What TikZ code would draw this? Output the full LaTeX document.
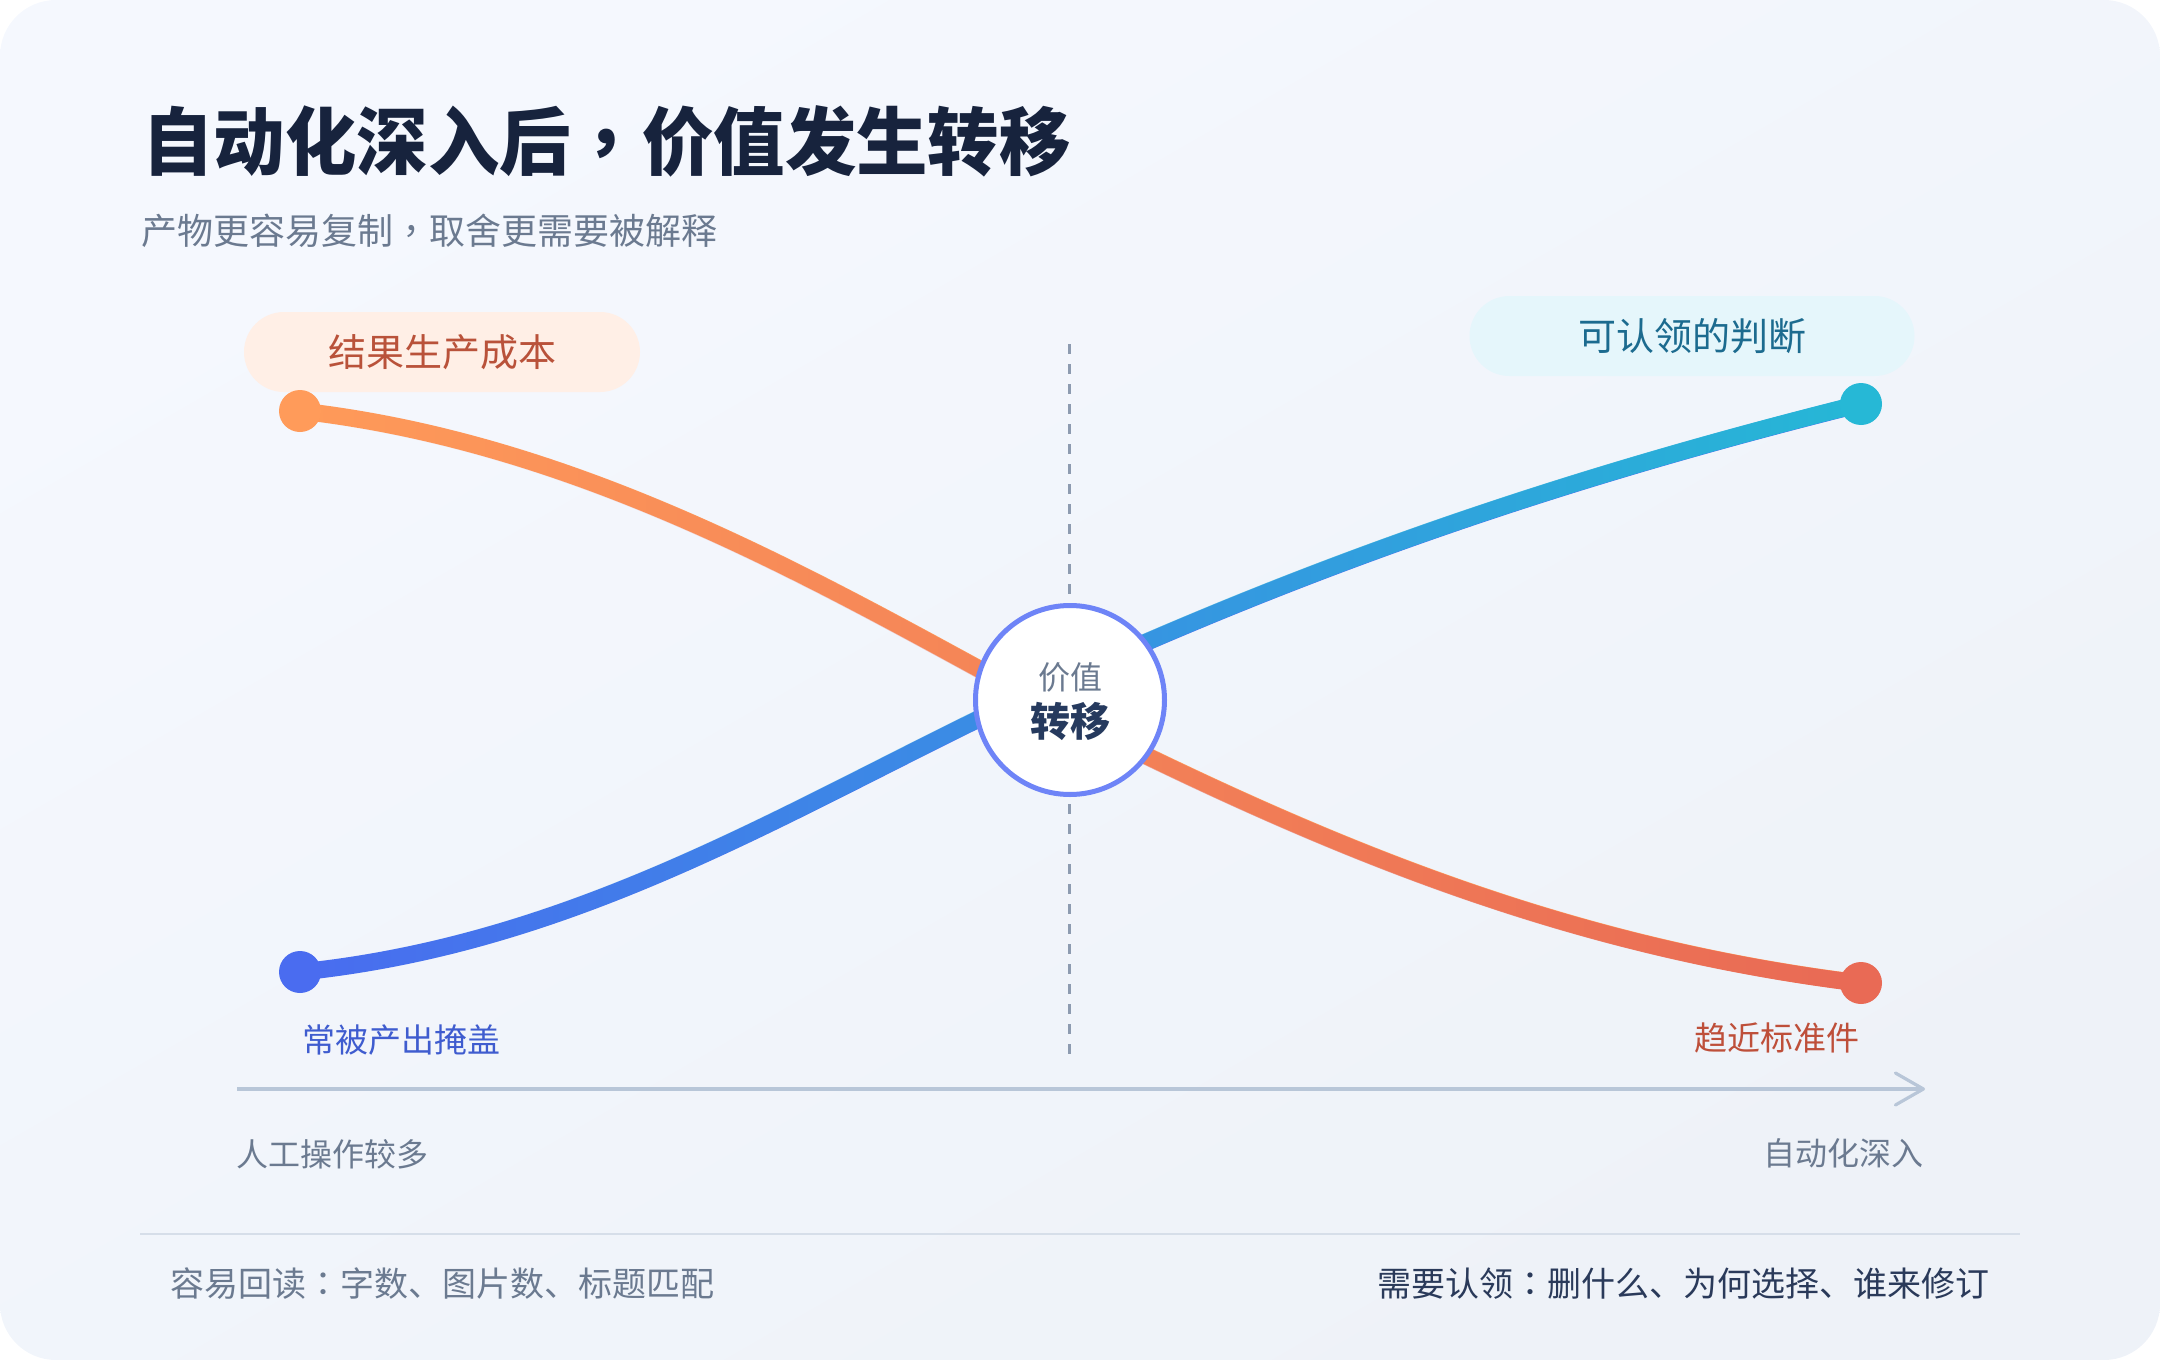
\documentclass[tikz,border=0pt]{standalone}
\usepackage{fontspec}
\usepackage{graphicx}
\setmainfont{Noto Sans CJK SC}
\newfontfamily\tcpunct{Noto Sans CJK TC}
\usetikzlibrary{arrows.meta,fadings}
\definecolor{bgA}{HTML}{F5F8FE}
\definecolor{bgB}{HTML}{EEF2F8}
\definecolor{titlec}{HTML}{17233D}
\definecolor{grayc}{HTML}{6B7A90}
\definecolor{darkc}{HTML}{2A3A5A}
\definecolor{pillOfill}{HTML}{FFEFE6}
\definecolor{pillOtext}{HTML}{B9523A}
\definecolor{pillCfill}{HTML}{E5F6FB}
\definecolor{pillCtext}{HTML}{1C6B8F}
\definecolor{orA}{HTML}{FF9B5A}
\definecolor{orB}{HTML}{E96A55}
\definecolor{blA}{HTML}{4A6CF0}
\definecolor{blB}{HTML}{26B8D6}
\definecolor{ringc}{HTML}{6E84F7}
\definecolor{dashc}{HTML}{8D9BB0}
\definecolor{axisc}{HTML}{B8C6D8}
\definecolor{sepc}{HTML}{D6DEE9}
\definecolor{bluelab}{HTML}{3F5CCF}
\definecolor{redlab}{HTML}{BE4F3A}
\definecolor{hubbold}{HTML}{263A5E}
\tikzfading[name=fadeinright, left color=transparent!100, right color=transparent!0]
\begin{document}
\begin{tikzpicture}[x=0.5pt,y=-0.5pt,
  txt/.style={inner sep=0pt},
  pill/.style={rounded corners=20pt, minimum height=40pt, inner sep=0pt, font=\fontsize{19}{22}\selectfont},
  dot/.style={circle, inner sep=0pt, minimum size=21pt},
  curve/.style={line width=8.6pt, line cap=round},
  ]
\useasboundingbox (0,0) rectangle (2160,1360);
\shade[rounded corners=28pt, top color=bgA, bottom color=bgB, shading angle=30] (0,0) rectangle (2160,1360);

% title
\node[txt, anchor=west, text=titlec, font=\fontsize{37}{44}\selectfont\bfseries] (title) at (142,141) {\scalebox{0.965}[1]{自动化深入后{\tcpunct ，}价值发生转移}};
\node[txt, anchor=west, text=grayc, font=\fontsize{18}{22}\selectfont] (subtitle) at (141,231) {产物更容易复制{\tcpunct ，}取舍更需要被解释};

% pills
\node[pill, fill=pillOfill, text=pillOtext, minimum width=198pt] (pillO) at (442,352) {结果生产成本};
\node[pill, fill=pillCfill, text=pillCtext, minimum width=222.5pt] (pillC) at (1692,336) {可认领的判断};

% dashed divider
\coordinate (dtop) at (1069,344);
\coordinate (dbot) at (1069,1054);
\draw[dashc, line width=1.5pt, dash pattern=on 5pt off 5pt] (dtop) -- (dbot);

% end points
\coordinate (o0) at (300,411);
\coordinate (om) at (1070,718);
\coordinate (o3) at (1861,983);
\coordinate (b0) at (300,972);
\coordinate (bm) at (1070,676);
\coordinate (b3) at (1861,404);

% orange curve
\draw[curve, orA] (o0) .. controls (600,445) and (850,601) .. (om) .. controls (1320,843) and (1560,946) .. (o3);
\draw[curve, orB, path fading=fadeinright] (o0) .. controls (600,445) and (850,601) .. (om) .. controls (1320,843) and (1560,946) .. (o3);
% blue curve
\draw[curve, blA] (b0) .. controls (600,941) and (820,788) .. (bm) .. controls (1320,563) and (1560,479) .. (b3);
\draw[curve, blB, path fading=fadeinright] (b0) .. controls (600,941) and (820,788) .. (bm) .. controls (1320,563) and (1560,479) .. (b3);

% dots
\node[dot, fill=orA] (do0) at (o0) {};
\node[dot, fill=orB] (do3) at (o3) {};
\node[dot, fill=blA] (db0) at (b0) {};
\node[dot, fill=blB] (db3) at (b3) {};

% hub
\node[circle, draw=ringc, line width=2.5pt, fill=white, minimum size=94.5pt, inner sep=0pt] (hub) at (1070,700) {};
\node[txt, text=grayc, font=\fontsize{16}{18}\selectfont] (hubA) at (1070,677) {价值};
\node[txt, text=hubbold, font=\fontsize{20}{22}\selectfont\bfseries] (hubB) at (1070,721) {转移};

% end labels
\node[txt, anchor=west, text=bluelab, font=\fontsize{16.5}{20}\selectfont] (labB) at (302,1040) {常被产出掩盖};
\node[txt, anchor=east, text=redlab, font=\fontsize{16.5}{20}\selectfont] (labR) at (1860,1038) {趋近标准件};

% axis
\coordinate (axs) at (237,1089);
\coordinate (axe) at (1925,1089);
\draw[axisc, line width=1.6pt, -{Straight Barb[length=14pt, width=16pt, round]}] (axs) -- (axe);
\node[txt, anchor=west, text=grayc, font=\fontsize{16}{19}\selectfont] (axl) at (236,1154) {人工操作较多};
\node[txt, anchor=east, text=grayc, font=\fontsize{16}{19}\selectfont] (axr) at (1924,1153) {自动化深入};

% separator
\coordinate (sl) at (140,1234);
\coordinate (sr) at (2020,1234);
\draw[sepc, line width=1.3pt] (sl) -- (sr);

% footer
\node[txt, anchor=west, text=grayc, font=\fontsize{17}{20}\selectfont] (footL) at (170,1284) {容易回读{\tcpunct ：}字数、图片数、标题匹配};
\node[txt, anchor=east, text=darkc, font=\fontsize{17}{20}\selectfont] (footR) at (1990,1284) {需要认领{\tcpunct ：}删什么、为何选择、谁来修订};
\end{tikzpicture}
\end{document}
